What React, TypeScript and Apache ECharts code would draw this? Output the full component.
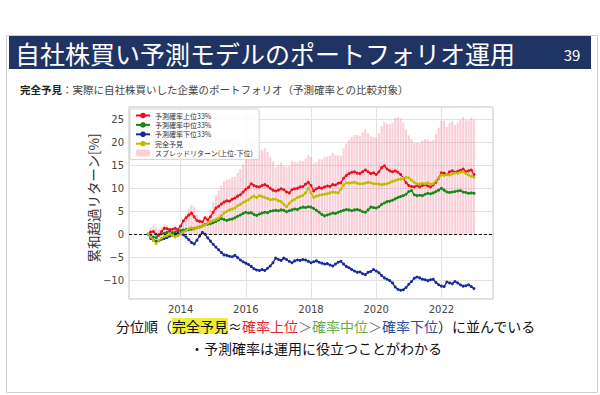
import React, { useEffect, useRef } from "react";
import * as echarts from "echarts";

const FONT = '"Noto Sans CJK JP", "Noto Sans", sans-serif';
const TICK_FONT = '"DejaVu Sans", sans-serif';

// monthly categories from 2012-06 to 2023-08 (axis range); data runs 2013-01 .. 2023-01
const categories: string[] = [];
for (let i = 0; i < 135; i++) {
  const y = 2012 + Math.floor((5 + i) / 12);
  const m = ((5 + i) % 12) + 1;
  categories.push(`${y}-${String(m).padStart(2, "0")}`);
}
const LEAD_PAD = 7;
const TAIL_PAD = 7;

const seriesNames = [
  "予測確率上位33%",
  "予測確率中位33%",
  "予測確率下位33%",
  "完全予見",
  "スプレッドリターン(上位-下位)",
];

// 予測確率上位33%
const topTier = [
  0, 0.5, 0.6, 0.0, -0.2, 0.6, 1.3, 1.2, 1.0, 1.1, 1.3, 1.0,
  1.8, 2.9, 3.6, 4.2, 4.6, 3.8, 3.0, 2.8, 2.7, 3.6, 3.1, 3.8,
  4.8, 5.7, 6.1, 6.6, 7.0, 7.3, 7.2, 7.6, 7.9, 8.3, 8.6, 9.2,
  9.8, 10.2, 11.0, 10.6, 10.4, 10.3, 10.6, 10.8, 10.5, 10.0, 9.6, 9.4,
  9.6, 9.9, 9.7, 9.2, 9.0, 9.7, 9.9, 10.0, 10.3, 10.4, 10.9, 11.3,
  10.6, 9.4, 9.9, 10.2, 10.0, 10.3, 10.5, 10.4, 10.8, 10.7, 11.1, 11.2,
  12.2, 12.8, 13.2, 13.5, 13.6, 13.3, 13.2, 13.6, 14.0, 13.6, 13.2, 13.4,
  13.0, 13.6, 14.5, 14.9, 14.2, 13.8, 13.6, 13.8, 13.5, 13.0, 12.2, 11.2,
  10.6, 10.4, 10.3, 10.6, 10.3, 10.6, 10.8, 10.5, 10.3, 10.7, 11.3, 12.2,
  13.4, 13.3, 13.0, 13.6, 13.8, 13.5, 13.7, 13.9, 14.2, 13.6, 13.8, 14.0,
  13.0,
];

// 予測確率中位33%
const midTier = [
  0, -0.3, -0.6, -0.8, -0.1, 0.1, 0.2, 0.4, 0.7, 0.3, 0.5, 0.7,
  0.8, 0.9, 1.0, 1.0, 1.1, 1.2, 1.4, 1.6, 1.8, 2.1, 2.2, 2.3,
  2.5, 2.8, 3.1, 3.4, 3.2, 3.0, 3.2, 3.3, 3.6, 3.9, 4.2, 4.5,
  4.8, 4.6, 4.7, 4.3, 4.1, 4.4, 4.6, 4.8, 4.7, 5.0, 5.1, 5.2,
  5.1, 5.3, 5.2, 4.9, 5.1, 5.3, 5.5, 5.4, 5.7, 5.9, 5.8, 6.0,
  5.9, 5.6, 5.2, 4.8, 4.3, 4.0, 4.2, 4.4, 4.6, 4.5, 4.8, 5.0,
  5.2, 5.4, 5.3, 5.1, 5.3, 5.4, 5.2, 4.9, 4.8, 5.3, 5.9, 5.8,
  5.7, 6.0, 6.5, 6.8, 7.1, 7.2, 7.4, 7.7, 8.0, 8.2, 8.4, 8.7,
  9.3, 9.5, 8.6, 8.4, 8.5, 8.4, 8.7, 8.9, 8.8, 9.0, 9.3, 9.6,
  10.0, 9.6, 9.2, 9.1, 9.2, 9.3, 9.4, 9.5, 9.2, 9.1, 8.9, 9.0,
  8.9,
];

// 予測確率下位33%
const lowTier = [
  0, -0.9, -1.3, -1.6, -1.4, -1.1, -0.9, -0.7, -0.4, -0.2, 0.0, 0.2,
  0.1, -0.1, -0.6, -1.2, -1.8, -2.1, -1.3, -0.4, 0.4, 0.0, -0.8, -1.5,
  -2.2, -2.8, -3.4, -4.0, -4.5, -4.6, -4.8, -4.9, -4.6, -5.1, -5.6, -6.0,
  -6.3, -6.6, -7.0, -7.5, -7.8, -7.9, -7.7, -7.9, -7.4, -6.9, -6.2, -5.2,
  -5.5, -5.7, -5.2, -5.5, -5.9, -6.2, -5.8, -5.6, -5.7, -5.5, -5.6, -5.9,
  -6.2, -6.0, -5.8, -6.1, -6.3, -6.5, -6.4, -6.7, -6.9, -6.5, -6.1, -5.9,
  -6.5, -7.0, -7.3, -7.7, -8.0, -8.3, -8.2, -8.6, -8.8, -8.3, -8.1, -7.7,
  -8.0, -8.4, -9.0, -9.5, -9.8, -10.1, -10.6, -11.5, -12.0, -12.2, -12.1, -11.6,
  -10.9, -10.3, -9.6, -9.3, -9.5, -9.8, -9.9, -10.1, -9.9, -9.8, -10.5, -11.0,
  -11.3, -11.4, -10.4, -10.6, -10.8, -10.3, -10.6, -11.0, -11.3, -11.2, -11.0, -11.4,
  -11.8,
];

// 完全予見
const perfectForesight = [
  0, -0.6, -1.3, -2.0, -1.3, -0.8, -0.5, -0.3, 0.0, -0.2, -0.6, -0.3,
  0.0, 0.5, 0.8, 1.2, 1.4, 1.1, 1.5, 1.7, 1.8, 2.0, 2.4, 2.7,
  3.0, 3.2, 3.5, 4.0, 4.6, 5.0, 5.3, 5.5, 5.7, 6.2, 6.5, 6.9,
  7.2, 7.5, 8.0, 8.3, 8.0, 8.4, 8.2, 8.0, 7.8, 7.5, 7.6, 7.6,
  7.3, 7.1, 6.5, 6.0, 6.7, 7.3, 7.6, 8.0, 8.2, 8.5, 9.0, 10.0,
  9.0, 8.0, 8.3, 8.5, 8.6, 8.7, 8.8, 9.0, 9.2, 9.1, 9.0, 9.8,
  10.7, 11.2, 11.1, 11.2, 11.3, 11.1, 11.0, 11.0, 11.1, 11.3, 11.2, 11.0,
  11.0, 10.9, 10.8, 10.9, 11.0, 11.2, 11.5, 11.7, 11.9, 12.0, 12.2, 12.4,
  12.3, 11.8, 11.3, 11.0, 10.9, 11.1, 11.0, 11.2, 10.9, 11.0, 11.6, 12.3,
  12.9, 12.8, 13.0, 12.9, 13.1, 13.3, 13.3, 13.5, 13.6, 13.2, 12.9, 12.6,
  12.4,
];

// spread return = top tier minus bottom tier (as defined in the legend)
const spread = topTier.map((v, i) => Math.round((v - lowTier[i]) * 100) / 100);

const pad = (arr: number[]) => [
  ...Array(LEAD_PAD).fill(null),
  ...arr,
  ...Array(TAIL_PAD).fill(null),
];

const isYearTick = (_idx: number, val: string) =>
  val.endsWith("-01") && parseInt(val.slice(0, 4), 10) % 2 === 0;

const fmtY = (v: number) => {
  if (Math.abs(v % 5) > 1e-6) return "";
  return v < 0 ? "\u2212" + Math.abs(v) : String(v);
};

const lineSeries = (name: string, data: number[], color: string, z: number) => ({
  name,
  type: "line",
  data: pad(data),
  symbol: "circle",
  symbolSize: 3,
  showSymbol: true,
  showAllSymbol: true,
  connectNulls: false,
  z,
  itemStyle: { color },
  lineStyle: { color, width: 1.3 },
});

export default function App() {
  const ref = useRef<HTMLDivElement>(null);

  useEffect(() => {
    if (!ref.current) return;
    const chart = echarts.init(ref.current, undefined, { renderer: "svg" });
    const option: any = {
      animation: false,
      backgroundColor: "#ffffff",
      textStyle: { fontFamily: FONT },
      grid: {
        left: 129,
        right: 107,
        top: 107,
        bottom: 96,
        show: true,
        borderColor: "#c2c2c2",
        borderWidth: 1,
        backgroundColor: "transparent",
      },
      legend: {
        data: seriesNames,
        orient: "vertical",
        left: 130,
        top: 109,
        itemWidth: 14,
        itemHeight: 7,
        itemGap: 2.4,
        padding: [3, 6, 3, 5],
        backgroundColor: "rgba(255,255,255,0.85)",
        borderColor: "#d4d4d4",
        borderWidth: 1,
        borderRadius: 2,
        textStyle: { fontSize: 7, color: "#333", fontFamily: FONT },
      },
      xAxis: {
        type: "category",
        data: categories,
        boundaryGap: false,
        axisLine: { show: false },
        axisTick: { show: false },
        axisLabel: {
          interval: isYearTick,
          formatter: (v: string) => v.slice(0, 4),
          color: "#444",
          fontSize: 10,
          margin: 5,
          fontFamily: TICK_FONT,
        },
        splitLine: {
          show: true,
          interval: isYearTick,
          lineStyle: { color: "#e2e2e2", width: 1 },
        },
      },
      yAxis: {
        type: "value",
        min: -14.1,
        max: 27.7,
        splitNumber: 8,
        axisLine: { show: false },
        axisTick: { show: false },
        axisLabel: {
          formatter: fmtY,
          color: "#444",
          fontSize: 10,
          margin: 5,
          fontFamily: TICK_FONT,
        },
        splitLine: { show: true, lineStyle: { color: "#e2e2e2", width: 1 } },
      },
      series: [
        {
          name: seriesNames[4],
          type: "bar",
          data: pad(spread),
          barCategoryGap: "22%",
          z: 1,
          itemStyle: { color: "rgba(240,140,165,0.42)" },
          markLine: {
            silent: true,
            symbol: "none",
            label: { show: false },
            lineStyle: { color: "#111", type: [3, 2], width: 1 },
            data: [{ yAxis: 0 }],
            z: 5,
          },
        },
        lineSeries(seriesNames[0], topTier, "#e8101a", 4),
        lineSeries(seriesNames[1], midTier, "#138a13", 3),
        lineSeries(seriesNames[2], lowTier, "#1a2a9c", 3),
        lineSeries(seriesNames[3], perfectForesight, "#bdbd00", 5),
      ],
      graphic: [
        {
          type: "rect",
          shape: { x: 6.5, y: 35.5, width: 591, height: 357 },
          style: { fill: "none", stroke: "#cfcfcf", lineWidth: 1 },
          silent: true,
        },
        {
          type: "rect",
          shape: { x: 9, y: 36, width: 582, height: 33 },
          style: { fill: "#1f3462" },
          silent: true,
        },
        {
          type: "text",
          x: 15,
          y: 53,
          style: {
            text: "自社株買い予測モデルのポートフォリオ運用",
            fill: "#ffffff",
            fontSize: 25,
            fontFamily: FONT,
            verticalAlign: "middle",
          },
        },
        {
          type: "text",
          x: 572,
          y: 54,
          style: {
            text: "39",
            fill: "#ffffff",
            fontSize: 15,
            fontFamily: FONT,
            align: "center",
            verticalAlign: "middle",
          },
        },
        {
          type: "text",
          x: 20,
          y: 89,
          style: {
            text: "{b|完全予見}{n|：実際に自社株買いした企業のポートフォリオ（予測確率との比較対象）}",
            fontFamily: FONT,
            verticalAlign: "middle",
            rich: {
              b: { fontSize: 10.5, fontWeight: "bold", fill: "#222", fontFamily: FONT },
              n: { fontSize: 10.5, fill: "#444", fontFamily: FONT },
            },
          },
        },
        {
          type: "text",
          x: 93,
          y: 198,
          rotation: Math.PI / 2,
          style: {
            text: "累和超過リターン[%]",
            fill: "#333",
            fontSize: 13.5,
            fontFamily: FONT,
            align: "center",
            verticalAlign: "middle",
          },
        },
        {
          type: "text",
          x: 116,
          y: 326,
          style: {
            text:
              "{k|分位順（}{h|完全予見}{k|≈}{r|確率上位}{g2|＞}{g|確率中位}{g2|＞}{bl|確率下位}{k|）に並んでいる}",
            fontFamily: FONT,
            verticalAlign: "middle",
            rich: {
              k: { fontSize: 14, fill: "#111", fontFamily: FONT },
              h: {
                fontSize: 14,
                fill: "#111",
                fontFamily: FONT,
                backgroundColor: "#eeee3a",
                padding: [1, 0, 1, 0],
              },
              r: { fontSize: 14, fill: "#e3262e", fontFamily: FONT },
              g: { fontSize: 14, fill: "#6aab4a", fontFamily: FONT },
              bl: { fontSize: 14, fill: "#2b4c9b", fontFamily: FONT },
              g2: { fontSize: 14, fill: "#777", fontFamily: FONT },
            },
          },
        },
        {
          type: "text",
          x: 190,
          y: 348,
          style: {
            text: "・予測確率は運用に役立つことがわかる",
            fill: "#111",
            fontSize: 14,
            fontFamily: FONT,
            verticalAlign: "middle",
          },
        },
      ],
    };
    chart.setOption(option);
    return () => {
      chart.dispose();
    };
  }, []);

  return (
    <div
      ref={ref}
      style={{ position: "fixed", left: 0, top: 0, width: 600, height: 395 }}
    />
  );
}
